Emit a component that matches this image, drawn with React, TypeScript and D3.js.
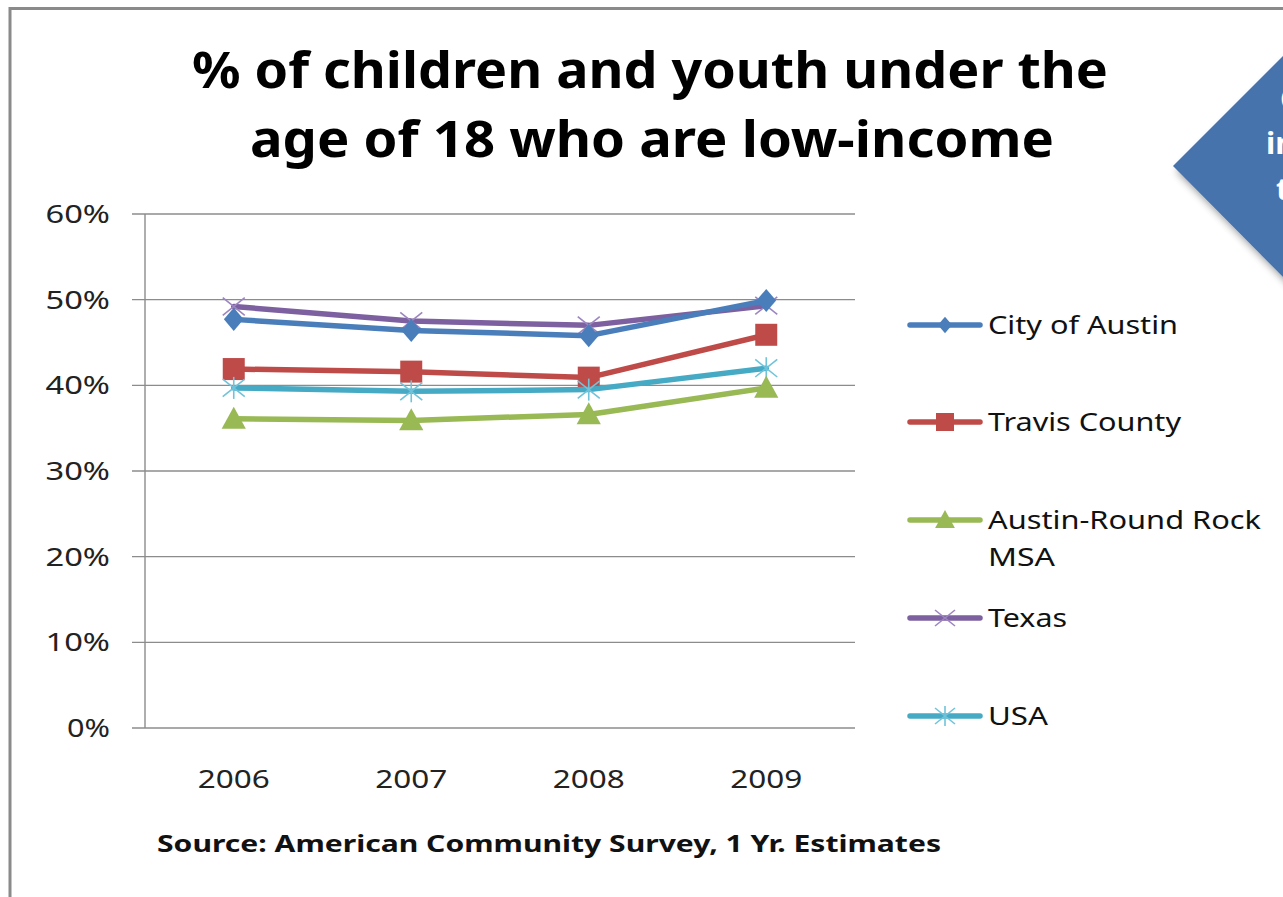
import React from "react";
import * as d3 from "d3";

const years = ["2006", "2007", "2008", "2009"];
const seriesNames = ["City of Austin", "Travis County", "Austin-Round Rock MSA", "Texas", "USA"];
const cityOfAustin = [0.477, 0.464, 0.458, 0.499];
const travisCounty = [0.419, 0.416, 0.409, 0.459];
const austinMSA = [0.361, 0.359, 0.366, 0.397];
const texas = [0.492, 0.475, 0.47, 0.493];
const usa = [0.397, 0.393, 0.395, 0.42];
const yTicks = [0, 0.1, 0.2, 0.3, 0.4, 0.5, 0.6];
const colors = ["#4A7EBB", "#BE4B48", "#98B954", "#7D60A0", "#46AAC5"];
const markers = ["diamond", "square", "triangle", "x", "star"];

const W = 1283;
const H = 897;
const FONT = "'Noto Sans', 'Open Sans', sans-serif";

function Marker({ type, x, y, color, s }: { type: string; x: number; y: number; color: string; s: number }) {
  if (type === "diamond") {
    const p = `M${x},${y - s * 0.55}L${x + s * 0.47},${y}L${x},${y + s * 0.55}L${x - s * 0.47},${y}Z`;
    return <path d={p} fill={color} />;
  }
  if (type === "square") {
    return <rect x={x - s / 2} y={y - s / 2} width={s} height={s} fill={color} />;
  }
  if (type === "triangle") {
    const p = `M${x},${y - s * 0.55}L${x + s * 0.55},${y + s * 0.45}L${x - s * 0.55},${y + s * 0.45}Z`;
    return <path d={p} fill={color} />;
  }
  const h = s / 2;
  if (type === "x") {
    return (
      <g stroke="#9C85C0" strokeWidth={1.6}>
        <line x1={x - h} y1={y - h * 0.8} x2={x + h} y2={y + h * 0.8} />
        <line x1={x - h} y1={y + h * 0.8} x2={x + h} y2={y - h * 0.8} />
      </g>
    );
  }
  return (
    <g stroke="#6FC3DA" strokeWidth={1.6}>
      <line x1={x - h} y1={y - h * 0.8} x2={x + h} y2={y + h * 0.8} />
      <line x1={x - h} y1={y + h * 0.8} x2={x + h} y2={y - h * 0.8} />
      <line x1={x} y1={y - h} x2={x} y2={y + h} />
    </g>
  );
}

export default function App() {
  const data = [cityOfAustin, travisCounty, austinMSA, texas, usa];
  const x = d3.scalePoint<string>().domain(years).range([145, 855]).padding(0.5);
  const y = d3.scaleLinear().domain([0, 0.6]).range([728, 214]);
  const line = d3
    .line<number>()
    .x((_, i) => x(years[i]) as number)
    .y((d) => y(d));
  const fmt = d3.format(".0%");

  const markerSizes = [21, 22, 22, 22, 22];
  const legendY = [325, 422, 520, 618, 716];
  const legendMarkerSizes = [15, 18, 18, 20, 20];
  const order = [3, 0, 1, 4, 2];

  return (
    <svg
      width={W}
      height={H}
      style={{ position: "absolute", left: 0, top: 0, background: "#fff" }}
      fontFamily={FONT}
    >
      <defs>
        <filter id="sh" x="-30%" y="-30%" width="160%" height="160%">
          <feGaussianBlur in="SourceAlpha" stdDeviation="4" />
          <feOffset dx="4" dy="5" result="b" />
          <feComponentTransfer>
            <feFuncA type="linear" slope="0.45" />
          </feComponentTransfer>
          <feMerge>
            <feMergeNode />
            <feMergeNode in="SourceGraphic" />
          </feMerge>
        </filter>
      </defs>
      <rect x={0} y={0} width={W} height={H} fill="#fff" />
      {/* frame */}
      <path d={`M10,${H + 5}L10,8.5L${W + 5},8.5`} fill="none" stroke="#8a8a8a" strokeWidth={3} />

      {/* callout shape */}
      <g filter="url(#sh)">
        <path d="M1173,166L1292,47L1292,286Z" fill="#4773AC" />
      </g>
      <g fill="#fff" fontWeight="bold" fontSize={31}>
        <text x={1280} y={110}>Children</text>
        <text x={1266} y={154}>income</text>
        <text x={1276} y={200}>the</text>
      </g>

      {/* title */}
      <g fontWeight="bold" fontSize={50} fill="#000" textAnchor="middle">
        <text x={650} y={88} textLength={916} lengthAdjust="spacingAndGlyphs">
          % of children and youth under the
        </text>
        <text x={652} y={157} textLength={804} lengthAdjust="spacingAndGlyphs">
          age of 18 who are low-income
        </text>
      </g>

      {/* gridlines & y axis */}
      <g>
        {yTicks.map((t) => {
          const label = fmt(t);
          return (
            <g key={t}>
              <line x1={132} x2={855} y1={y(t)} y2={y(t)} stroke="#8c8c8c" strokeWidth={1.4} />
              <text
                x={110}
                y={y(t) + 9}
                textAnchor="end"
                fontSize={25}
                fill="#222"
                textLength={label.length * 21.5}
                lengthAdjust="spacingAndGlyphs"
              >
                {label}
              </text>
            </g>
          );
        })}
        <line x1={145} x2={145} y1={y(0.6)} y2={y(0)} stroke="#8c8c8c" strokeWidth={1.4} />
      </g>

      {/* x labels */}
      <g>
        {years.map((yr) => (
          <text
            key={yr}
            x={x(yr)}
            y={788}
            textAnchor="middle"
            fontSize={25}
            fill="#222"
            textLength={72}
            lengthAdjust="spacingAndGlyphs"
          >
            {yr}
          </text>
        ))}
      </g>

      {/* series */}
      {order.map((si) => (
        <g key={seriesNames[si]}>
          <path d={line(data[si]) as string} fill="none" stroke={colors[si]} strokeWidth={5.5} strokeLinejoin="round" strokeLinecap="round" />
          {data[si].map((v, i) => (
            <Marker key={i} type={markers[si]} x={x(years[i]) as number} y={y(v)} color={colors[si]} s={markerSizes[si]} />
          ))}
        </g>
      ))}

      {/* legend */}
      <g>
        {seriesNames.map((name, i) => (
          <g key={name}>
            <line x1={910} x2={980} y1={legendY[i]} y2={legendY[i]} stroke={colors[i]} strokeWidth={5.5} strokeLinecap="round" />
            <Marker type={markers[i]} x={945} y={legendY[i]} color={colors[i]} s={legendMarkerSizes[i]} />
          </g>
        ))}
        <g fontSize={25} fill="#111">
          <text x={988} y={334} textLength={190} lengthAdjust="spacingAndGlyphs">City of Austin</text>
          <text x={988} y={431} textLength={193} lengthAdjust="spacingAndGlyphs">Travis County</text>
          <text x={988} y={529} textLength={273} lengthAdjust="spacingAndGlyphs">Austin-Round Rock</text>
          <text x={988} y={566} textLength={67} lengthAdjust="spacingAndGlyphs">MSA</text>
          <text x={988} y={627} textLength={79} lengthAdjust="spacingAndGlyphs">Texas</text>
          <text x={988} y={725} textLength={60} lengthAdjust="spacingAndGlyphs">USA</text>
        </g>
      </g>

      {/* source */}
      <text x={157} y={852} fontWeight="bold" fontSize={24} fill="#111" textLength={784} lengthAdjust="spacingAndGlyphs">
        Source: American Community Survey, 1 Yr. Estimates
      </text>
    </svg>
  );
}
